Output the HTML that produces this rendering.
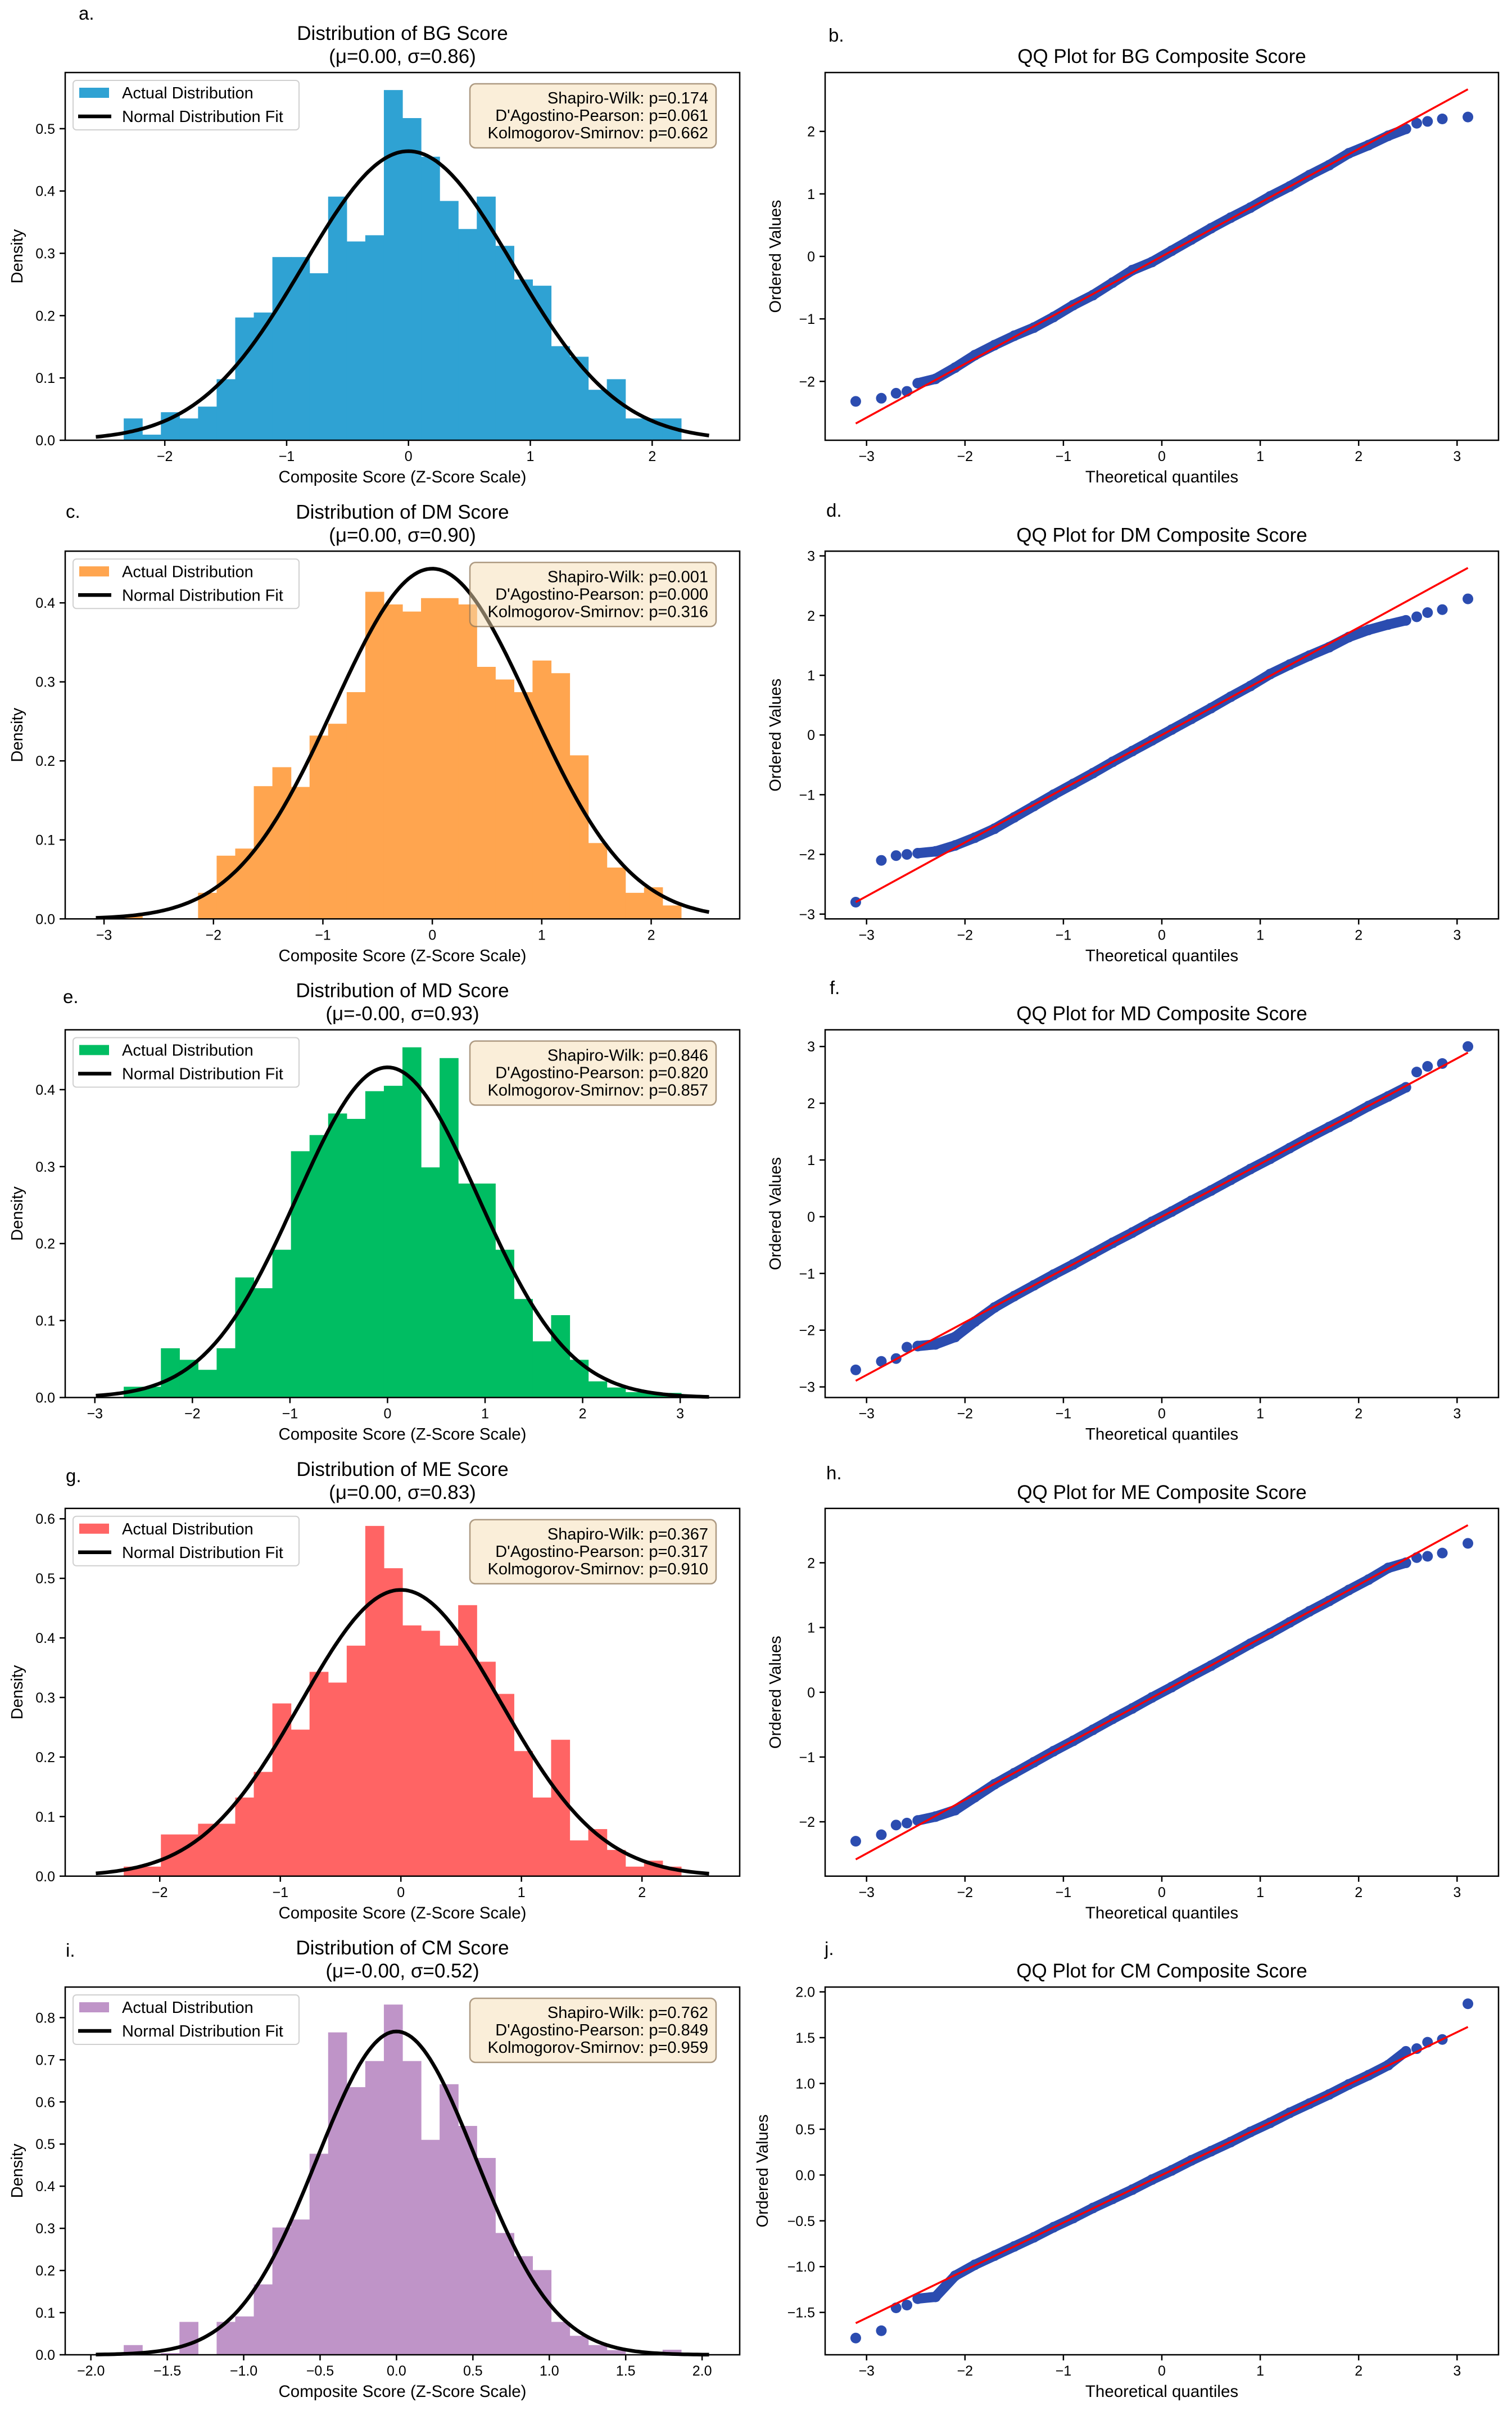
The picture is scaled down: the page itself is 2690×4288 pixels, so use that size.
<!DOCTYPE html>
<html><head><meta charset="utf-8"><title>Composite score distributions</title>
<style>
html,body{margin:0;padding:0;background:#fff;}
svg{display:block;font-family:"Liberation Sans",sans-serif;}
</style></head>
<body>
<svg id="fig" xmlns="http://www.w3.org/2000/svg" width="2690" height="4288" viewBox="0 0 2690 4288"></svg>
<script>
// ---------- histogram data (density per bin, 30 bins) ----------
const bgDensity = [0.035,0.009,0.045,0.035,0.054,0.098,0.197,0.205,0.294,0.294,0.268,0.391,0.319,0.329,0.562,0.517,0.455,0.384,0.339,0.391,0.312,0.258,0.248,0.151,0.134,0.081,0.098,0.035,0.035,0.035];
const dmDensity = [0.005,0,0,0,0.033,0.080,0.089,0.168,0.192,0.167,0.232,0.247,0.287,0.414,0.398,0.389,0.406,0.406,0.398,0.319,0.303,0.287,0.327,0.311,0.207,0.096,0.065,0.033,0.040,0.017];
const mdDensity = [0.014,0.014,0.064,0.049,0.036,0.064,0.156,0.142,0.192,0.320,0.341,0.369,0.362,0.398,0.405,0.455,0.299,0.441,0.278,0.278,0.192,0.128,0.073,0.107,0.049,0.021,0.013,0.007,0.006,0.006];
const meDensity = [0.016,0.016,0.070,0.070,0.088,0.088,0.132,0.175,0.290,0.246,0.343,0.325,0.387,0.588,0.517,0.421,0.412,0.387,0.455,0.360,0.306,0.210,0.132,0.229,0.060,0.079,0.044,0.016,0.026,0.016];
const cmDensity = [0.023,0,0.004,0.078,0,0.078,0.091,0.167,0.302,0.321,0.477,0.765,0.635,0.697,0.831,0.697,0.510,0.642,0.543,0.467,0.289,0.234,0.201,0.078,0.045,0.023,0.011,0,0,0.012];
const binRangeBG = [-2.337, 2.238];
const binRangeDM = [-2.82, 2.274];
const binRangeMD = [-2.704, 3.01];
const binRangeME = [-2.299, 2.325];
const binRangeCM = [-1.785, 1.863];
const fitMu = [0.00, 0.00, 0.00, 0.00, 0.00];
const fitSigma = [0.86, 0.90, 0.93, 0.83, 0.52];
const histXTicks = [[-2,-1,0,1,2],[-3,-2,-1,0,1,2],[-3,-2,-1,0,1,2,3],[-2,-1,0,1,2],[-2,-1.5,-1,-0.5,0,0.5,1,1.5,2]];
const histYTicks = [[0,0.1,0.2,0.3,0.4,0.5],[0,0.1,0.2,0.3,0.4],[0,0.1,0.2,0.3,0.4],[0,0.1,0.2,0.3,0.4,0.5,0.6],[0,0.1,0.2,0.3,0.4,0.5,0.6,0.7,0.8]];
const swP = ["0.174","0.001","0.846","0.367","0.762"];
const dpP = ["0.061","0.000","0.820","0.317","0.849"];
const ksP = ["0.662","0.316","0.857","0.910","0.959"];
// ---------- QQ data ----------
const qqTheo = [-3.11,-2.85,-2.70,-2.59,-2.48,-2.3,-2.1,-1.9,-1.7,-1.5,-1.3,-1.1,-0.9,-0.7,-0.5,-0.3,-0.1,0.1,0.3,0.5,0.7,0.9,1.1,1.3,1.5,1.7,1.9,2.1,2.3,2.48,2.59,2.70,2.85,3.11];
const qqBG = [-2.32,-2.27,-2.19,-2.16,-2.03,-1.96,-1.78,-1.58,-1.42,-1.27,-1.14,-0.97,-0.78,-0.62,-0.42,-0.22,-0.09,0.09,0.27,0.45,0.62,0.78,0.96,1.12,1.30,1.46,1.65,1.78,1.93,2.04,2.13,2.16,2.20,2.23];
const qqDM = [-2.80,-2.10,-2.02,-2.00,-1.98,-1.95,-1.85,-1.72,-1.57,-1.38,-1.19,-1.00,-0.82,-0.64,-0.45,-0.27,-0.09,0.09,0.27,0.45,0.64,0.82,1.02,1.18,1.33,1.47,1.64,1.76,1.85,1.92,1.98,2.05,2.10,2.28];
const qqMD = [-2.70,-2.55,-2.50,-2.30,-2.28,-2.25,-2.12,-1.85,-1.60,-1.40,-1.21,-1.02,-0.84,-0.65,-0.46,-0.28,-0.09,0.09,0.28,0.46,0.65,0.84,1.02,1.21,1.40,1.58,1.76,1.95,2.12,2.28,2.55,2.65,2.70,3.00];
const qqME = [-2.30,-2.20,-2.05,-2.02,-1.98,-1.92,-1.82,-1.62,-1.42,-1.25,-1.08,-0.91,-0.75,-0.58,-0.41,-0.25,-0.08,0.08,0.25,0.41,0.58,0.75,0.91,1.08,1.25,1.41,1.58,1.74,1.92,2.00,2.08,2.10,2.15,2.30];
const qqCM = [-1.78,-1.70,-1.45,-1.42,-1.35,-1.33,-1.10,-0.98,-0.88,-0.78,-0.68,-0.57,-0.47,-0.36,-0.26,-0.16,-0.05,0.05,0.16,0.26,0.36,0.47,0.57,0.68,0.78,0.88,0.99,1.09,1.20,1.35,1.38,1.45,1.48,1.87];
const qqSlope = [0.86, 0.90, 0.93, 0.83, 0.52];
const qqIntercept = [0, 0, 0, 0, 0];
const qqYTicks = [[-2,-1,0,1,2],[-3,-2,-1,0,1,2,3],[-3,-2,-1,0,1,2,3],[-2,-1,0,1,2],[-1.5,-1,-0.5,0,0.5,1,1.5,2]];
const qqXTicks = [-3,-2,-1,0,1,2,3];
const scoreNames = ["BG","DM","MD","ME","CM"];
const muText = ["0.00","0.00","-0.00","0.00","-0.00"];

const NS = "http://www.w3.org/2000/svg";
const svg = document.getElementById('fig');
function mk(tag, attrs, parent, text) {
  const e = document.createElementNS(NS, tag);
  for (const k in attrs) e.setAttribute(k, attrs[k]);
  if (text !== undefined) e.textContent = text;
  (parent || svg).appendChild(e);
  return e;
}
function fmtTick(v, dec) {
  const s = Math.abs(v).toFixed(dec);
  return (v < -1e-9 ? "\u2212" : "") + s;
}
const LX0 = 116, LX1 = 1316, RX0 = 1468, RX1 = 2666, TOP0 = 129, PITCH = 851.25, AXH = 654;
const panelLetters = [["a.", 140, 35, "b.", 1474, 74], ["c.", 117, 921, "d.", 1470, 919], ["e.", 112, 1784, "f.", 1476, 1768], ["g.", 117, 2636, "h.", 1470, 2631], ["i.", 117, 3480, "j.", 1467, 3477]];
const histColors = ["#2fa2d3", "#ffa54f", "#00bd62", "#ff6464", "#bf94c8"];
const allDensity = [bgDensity, dmDensity, mdDensity, meDensity, cmDensity];
const allRanges = [binRangeBG, binRangeDM, binRangeMD, binRangeME, binRangeCM];
const allQQ = [qqBG, qqDM, qqMD, qqME, qqCM];

function axesFrame(g, x0, x1, top, bot, xticks, yticks, xs, ys, xdec, ydec) {
  xticks.forEach(t => {
    const X = xs(t);
    const tk = mk('line', {x1: X, x2: X, y1: bot, y2: bot + 10, stroke: '#000', 'stroke-width': 2.5}, g);
    
    
    const tl = mk('text', {x: X, y: bot + 37, 'font-size': 25, 'text-anchor': 'middle'}, g, fmtTick(t, xdec));
    
    
  });
  yticks.forEach(t => {
    const Y = ys(t);
    const tk = mk('line', {x1: x0 - 10, x2: x0, y1: Y, y2: Y, stroke: '#000', 'stroke-width': 2.5}, g);
    
    
    const tl = mk('text', {x: x0 - 18, y: Y + 9, 'font-size': 25, 'text-anchor': 'end'}, g, fmtTick(t, ydec));
    
    
  });
  const fr = mk('rect', {x: x0, y: top, width: x1 - x0, height: bot - top, fill: 'none', stroke: '#000', 'stroke-width': 2.5}, g);
  
  
}

for (let p = 0; p < 5; p++) {
  const top = TOP0 + PITCH * p, bot = top + AXH;
  // ---------- histogram ----------
  const g = mk('g', {});
  
  
  const dens = allDensity[p], rng = allRanges[p];
  const nb = dens.length, bw = (rng[1] - rng[0]) / nb;
  const span = rng[1] - rng[0];
  const cLo = rng[0] - 0.05 * span, cHi = rng[1] + 0.05 * span;
  const xmin = cLo - 0.05 * (cHi - cLo), xmax = cHi + 0.05 * (cHi - cLo);
  const mu = fitMu[p], sg = fitSigma[p];
  const pdf = x => Math.exp(-0.5 * ((x - mu) / sg) ** 2) / (sg * Math.sqrt(2 * Math.PI));
  const ymax = Math.max(Math.max(...dens), pdf(mu)) * 1.05;
  const xs = x => LX0 + (x - xmin) / (xmax - xmin) * (LX1 - LX0);
  const ys = y => bot - y / ymax * AXH;
  dens.forEach((d, i) => {
    if (d <= 0) return;
    const b = mk('rect', {x: xs(rng[0] + i * bw), y: ys(d), width: xs(rng[0] + (i + 1) * bw) - xs(rng[0] + i * bw) + 0.6, height: bot - ys(d), fill: histColors[p]}, g);
    
    
  });
  let pts = [];
  for (let k = 0; k <= 200; k++) { const x = cLo + (cHi - cLo) * k / 200; pts.push(xs(x).toFixed(1) + ',' + ys(pdf(x)).toFixed(1)); }
  const curve = mk('polyline', {points: pts.join(' '), fill: 'none', stroke: '#000', 'stroke-width': 6.5, 'stroke-linejoin': 'round'}, g);
  
  
  axesFrame(g, LX0, LX1, top, bot, histXTicks[p], histYTicks[p], xs, ys, p === 4 ? 1 : 0, 1);
  // legend
  const lg = mk('g', {}, g);
  
  
  mk('rect', {x: LX0 + 14, y: top + 14, width: 402, height: 88, rx: 6, fill: '#fff', 'fill-opacity': 0.8, stroke: '#d0d0d0', 'stroke-width': 2}, lg);
  const lp = mk('rect', {x: LX0 + 25, y: top + 27, width: 53, height: 18, fill: histColors[p]}, lg);
  
  
  const lt1 = mk('text', {x: LX0 + 101, y: top + 46, 'font-size': 29}, lg, 'Actual Distribution');
  
  
  const ll = mk('line', {x1: LX0 + 23, x2: LX0 + 82, y1: top + 78, y2: top + 78, stroke: '#000', 'stroke-width': 6.5}, lg);
  
  
  const lt2 = mk('text', {x: LX0 + 101, y: top + 88, 'font-size': 29}, lg, 'Normal Distribution Fit');
  
  
  // stats box
  const sb = mk('g', {}, g);
  
  
  mk('rect', {x: LX1 - 480, y: top + 20, width: 438, height: 114, rx: 10, fill: '#f5deb3', 'fill-opacity': 0.5, stroke: '#8b7355', 'stroke-opacity': 0.7, 'stroke-width': 2.5}, sb);
  [['Shapiro-Wilk: p=' + swP[p], 55], ["D'Agostino-Pearson: p=" + dpP[p], 86], ['Kolmogorov-Smirnov: p=' + ksP[p], 117]].forEach(([s, dy]) => {
    const t = mk('text', {x: LX1 - 56, y: top + dy, 'font-size': 29, 'text-anchor': 'end'}, sb, s);
    
    
  });
  const cx = (LX0 + LX1) / 2;
  const t1 = mk('text', {x: cx, y: top - 58, 'font-size': 35, 'text-anchor': 'middle'}, g, 'Distribution of ' + scoreNames[p] + ' Score');
  
  
  const t2 = mk('text', {x: cx, y: top - 17, 'font-size': 35, 'text-anchor': 'middle'}, g, '(\u03bc=' + muText[p] + ', \u03c3=' + fitSigma[p].toFixed(2) + ')');
  
  
  const xl = mk('text', {x: cx, y: bot + 75, 'font-size': 29.5, 'text-anchor': 'middle'}, g, 'Composite Score (Z-Score Scale)');
  
  
  const yl = mk('text', {x: 0, y: 0, 'font-size': 29, 'text-anchor': 'middle', transform: 'translate(40,' + ((top + bot) / 2) + ') rotate(-90)'}, g, 'Density');
  
  
  const la = mk('text', {x: panelLetters[p][1], y: panelLetters[p][2], 'font-size': 33}, g, panelLetters[p][0]);
  
  

  // ---------- QQ plot ----------
  const q = mk('g', {});
  
  
  const vals = allQQ[p];
  const tmin = qqTheo[0], tmax = qqTheo[qqTheo.length - 1];
  const qxmin = tmin - 0.05 * (tmax - tmin), qxmax = tmax + 0.05 * (tmax - tmin);
  const lineLo = qqSlope[p] * tmin + qqIntercept[p], lineHi = qqSlope[p] * tmax + qqIntercept[p];
  const vlo = Math.min(Math.min(...vals), lineLo), vhi = Math.max(Math.max(...vals), lineHi);
  const qymin = vlo - 0.05 * (vhi - vlo), qymax = vhi + 0.05 * (vhi - vlo);
  const qx = x => RX0 + (x - qxmin) / (qxmax - qxmin) * (RX1 - RX0);
  const qy = y => bot - (y - qymin) / (qymax - qymin) * AXH;
  const body = [];
  qqTheo.forEach((t, i) => { if (Math.abs(t) <= 2.5) body.push(qx(t).toFixed(1) + ',' + qy(vals[i]).toFixed(1)); });
  const band = mk('polyline', {points: body.join(' '), fill: 'none', stroke: '#2b4cb0', 'stroke-width': 18, 'stroke-linecap': 'round', 'stroke-linejoin': 'round'}, q);
  
  
  qqTheo.forEach((t, i) => {
    const c = mk('circle', {cx: qx(t), cy: qy(vals[i]), r: 9.5, fill: '#2b4cb0'}, q);
    
    
  });
  const rl = mk('line', {x1: qx(tmin), y1: qy(lineLo), x2: qx(tmax), y2: qy(lineHi), stroke: '#ff0000', 'stroke-width': 3.5}, q);
  
  
  axesFrame(q, RX0, RX1, top, bot, qqXTicks, qqYTicks[p], qx, qy, 0, p === 4 ? 1 : 0);
  const qcx = (RX0 + RX1) / 2;
  const qt = mk('text', {x: qcx, y: top - 17, 'font-size': 35, 'text-anchor': 'middle'}, q, 'QQ Plot for ' + scoreNames[p] + ' Composite Score');
  
  
  const qxl = mk('text', {x: qcx, y: bot + 75, 'font-size': 29.5, 'text-anchor': 'middle'}, q, 'Theoretical quantiles');
  
  
  const ylx = p === 4 ? 1366 : 1389;
  const qyl = mk('text', {x: 0, y: 0, 'font-size': 29, 'text-anchor': 'middle', transform: 'translate(' + ylx + ',' + ((top + bot) / 2) + ') rotate(-90)'}, q, 'Ordered Values');
  
  
  const lb = mk('text', {x: panelLetters[p][4], y: panelLetters[p][5], 'font-size': 33}, q, panelLetters[p][3]);
  
  
}
</script>
</body></html>
